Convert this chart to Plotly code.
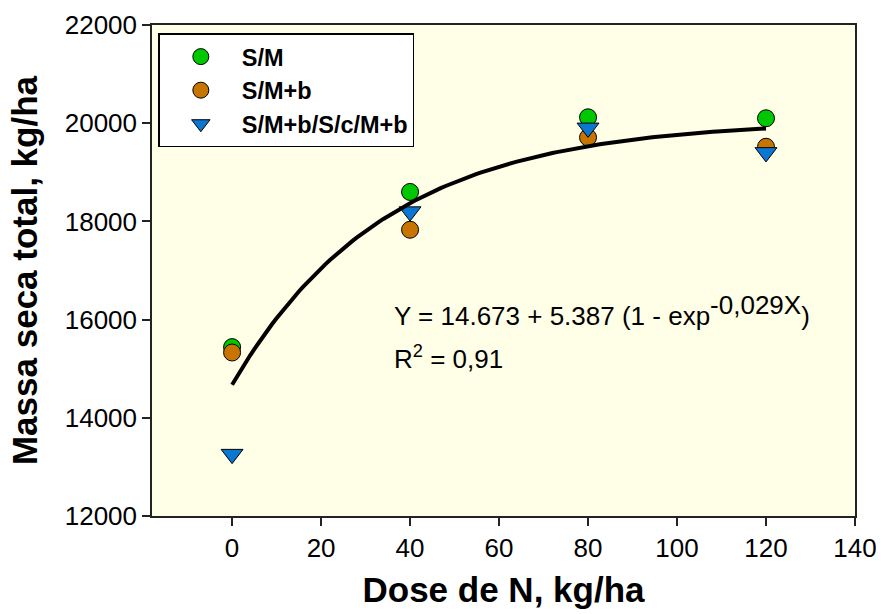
import numpy as np
import plotly.graph_objects as go

# ---- data ----
dose = [0, 40, 80, 120]
sm = [15440, 18600, 20120, 20100]
sm_b = [15330, 17830, 19710, 19520]
sm_b_sc = [13260, 18200, 19905, 19405]
series_names = ["S/M", "S/M+b", "S/M+b/S/c/M+b"]

# fitted model printed on the chart: Y = a + b (1 - exp(-c X))
fit_a, fit_b, fit_c = 14673.0, 5387.0, 0.029
fit_x = np.linspace(0, 120, 121)
fit_y = fit_a + fit_b * (1 - np.exp(-fit_c * fit_x))

x_ticks = [0, 20, 40, 60, 80, 100, 120, 140]
y_ticks = [12000, 14000, 16000, 18000, 20000, 22000]

FONT = "Liberation Sans, Arial, Helvetica, sans-serif"
colors = ["#00C800", "#C87400", "#0A78D2"]
symbols = ["circle", "circle", "triangle-down"]
sizes = [17, 17, 19]

fig = go.Figure()
for name, vals, col, sym, sz in zip(series_names, [sm, sm_b, sm_b_sc], colors, symbols, sizes):
    fig.add_trace(go.Scatter(
        x=dose, y=vals, mode="markers", name=name,
        marker=dict(color=col, symbol=sym, size=sz, line=dict(color="black", width=1)),
    ))

fig.add_trace(go.Scatter(
    x=fit_x, y=fit_y, mode="lines", showlegend=False,
    line=dict(color="black", width=4), hoverinfo="skip",
))

axis_common = dict(
    showline=True, linecolor="#222222", linewidth=1.5, mirror=True,
    ticks="outside", ticklen=8, tickwidth=1.5, tickcolor="#222222",
    showgrid=False, zeroline=False, automargin=False,
    tickfont=dict(family=FONT, size=26, color="black"),
)

fig.update_xaxes(
    range=[-18, 140], tickvals=x_ticks, ticktext=[str(v) for v in x_ticks],
    title=dict(text="Dose de N, kg/ha", font=dict(family=FONT, size=35, color="black", weight="bold"), standoff=16),
    **axis_common,
)
fig.update_yaxes(
    range=[12000, 22000], tickvals=y_ticks, ticktext=[str(v) for v in y_ticks],
    title=dict(text="Massa seca total, kg/ha", font=dict(family=FONT, size=35, color="black", weight="bold"), standoff=16),
    **axis_common,
)

fig.add_annotation(
    xref="paper", yref="paper", x=0.342, y=0.418, xanchor="left", yanchor="middle",
    text='Y = 14.673 + 5.387 (1 - exp<sup><span style="font-size:26px">-0,029X</span></sup>)',
    showarrow=False, font=dict(family=FONT, size=26, color="black"),
)
fig.add_annotation(
    xref="paper", yref="paper", x=0.342, y=0.323, xanchor="left", yanchor="middle",
    text="R<sup>2</sup> = 0,91",
    showarrow=False, font=dict(family=FONT, size=26, color="black"),
)

fig.update_layout(
    width=881, height=614,
    margin=dict(l=152, r=26, t=25, b=98, autoexpand=False),
    paper_bgcolor="white", plot_bgcolor="#FFFEE6",
    font=dict(family=FONT, color="black"),
    legend=dict(
        x=0.009, y=0.983, xanchor="left", yanchor="top",
        bgcolor="white", bordercolor="black", borderwidth=1.5,
        font=dict(family=FONT, size=23.5, color="black", weight="bold"),
        itemwidth=72,
    ),
)

fig.write_html(
    "out.html",
    config={"displayModeBar": False},
    post_script="document.body.style.margin='0px';document.body.style.padding='0px';",
)
